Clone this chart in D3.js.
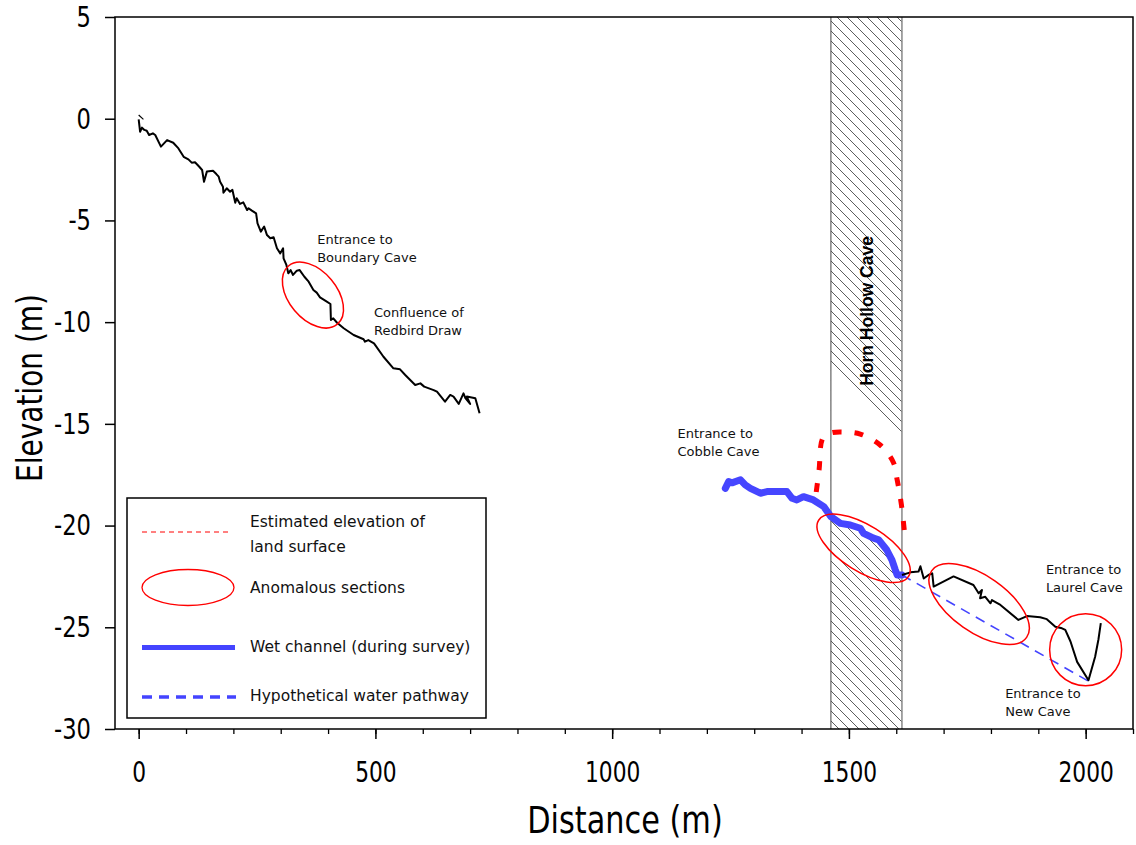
<!DOCTYPE html>
<html>
<head>
<meta charset="utf-8">
<script src="https://cdn.jsdelivr.net/npm/d3@7"></script>
<style>
  body { margin: 0; background: #fff; }
  svg { display: block; }
</style>
</head>
<body>
<div id="chart"></div>
<script>
// ---- data (distance m, elevation m) ----
const xMajorTicks = [0, 500, 1000, 1500, 2000];
const xMinorTicks = d3.range(0, 2101, 100);
const yTicks = [-30, -25, -20, -15, -10, -5, 0, 5];

const startStub = [[0, 0.18], [10, -0.03]];

const upstreamProfile = [
  [0, -0.03], [3, -0.64], [7, -0.44], [12, -0.55], [17, -0.59], [22, -0.80], [30, -0.72],
  [35, -0.80], [47, -1.37], [60, -1.05], [73, -1.18], [84, -1.46], [95, -1.87], [105, -2.0],
  [112, -2.16], [119, -2.14], [128, -2.36], [134, -2.52], [138, -3.1], [144, -2.6], [157, -2.56],
  [164, -2.72], [169, -2.85], [172, -3.1], [178, -3.34], [179, -3.64], [186, -3.42], [193, -3.59],
  [198, -3.5], [204, -4.13], [207, -3.91], [214, -4.19], [221, -4.11], [229, -4.49], [232, -4.4],
  [239, -4.52], [248, -4.65], [251, -5.14], [258, -5.55], [265, -5.3], [271, -5.72], [278, -5.88],
  [285, -5.83], [292, -6.37], [299, -6.62], [305, -6.37], [306, -6.86], [312, -7.19], [316, -7.6],
  [321, -7.44], [326, -7.68], [334, -7.47], [340, -7.44], [350, -7.77], [359, -8.01], [369, -8.42],
  [376, -8.55], [383, -8.78], [394, -8.94], [405, -9.11], [406, -9.89], [411, -9.81], [419, -10.03],
  [433, -10.3], [454, -10.63], [475, -10.84], [478, -10.96], [485, -10.88], [497, -11.04],
  [517, -11.7], [538, -12.27], [552, -12.32], [563, -12.6], [584, -13.09], [595, -13.01],
  [603, -13.17], [623, -13.34], [630, -13.42], [647, -13.91], [658, -13.58], [665, -13.66],
  [676, -14.02], [686, -13.5], [690, -13.74], [700, -14.02], [693, -13.66], [711, -13.74], [720, -14.48]
];

const wetChannel = [
  [1239, -18.17], [1246, -17.84], [1253, -17.9], [1271, -17.75], [1281, -18.0], [1292, -18.17],
  [1313, -18.41], [1327, -18.33], [1369, -18.33], [1380, -18.66], [1390, -18.74], [1404, -18.58],
  [1425, -18.74], [1447, -19.07], [1462, -19.56], [1482, -19.89], [1503, -19.97], [1524, -20.13],
  [1531, -20.38], [1552, -20.62], [1563, -20.7], [1580, -21.2], [1591, -21.7], [1598, -22.18],
  [1602, -22.43], [1612, -22.43]
];

const downstreamProfile = [
  [1612, -22.43], [1630, -22.3], [1647, -22.26], [1651, -22.0], [1658, -22.6], [1668, -22.43],
  [1676, -22.35], [1679, -23.0], [1721, -22.5], [1763, -22.92], [1774, -23.33], [1781, -23.17],
  [1777, -23.57], [1788, -23.5], [1799, -23.82], [1802, -23.66], [1820, -23.9], [1858, -24.64],
  [1876, -24.45], [1904, -24.51], [1918, -24.6], [1936, -24.97], [1950, -25.05], [1957, -25.13],
  [1968, -25.7], [1982, -26.7], [2006, -27.6], [2020, -26.45], [2027, -25.6], [2032, -24.8]
];

const landSurface = [
  [1431, -18.35], [1437, -17.27], [1445, -15.7], [1461, -15.45], [1488, -15.4], [1524, -15.5],
  [1566, -16.04], [1594, -16.9], [1602, -17.76], [1611, -19.0], [1619, -20.7]
];

const waterPathway = [[1612, -22.43], [2006, -27.65]];

const caveSpan = [1462, 1612];
const caveCeiling = [[1462, -12.1], [1612, -15.7]];

const anomalyCenters = [[368, -8.67], [1531, -21.12], [1775, -23.86], [2000, -26.1]];

const annotations = [
  { lines: ["Entrance to", "Boundary Cave"], at: [377, -6.16] },
  { lines: ["Confluence of", "Redbird Draw"], at: [497, -9.76] },
  { lines: ["Entrance to", "Cobble Cave"], at: [1138, -15.71] },
  { lines: ["Entrance to", "Laurel Cave"], at: [1916, -22.38] },
  { lines: ["Entrance to", "New Cave"], at: [1830, -28.49] }
];

// ---- layout ----
const W = 1136, H = 845;
const plotL = 115, plotR = 1133, plotT = 17, plotB = 729;

const svg = d3.select("#chart").append("svg")
  .attr("width", W).attr("height", H)
  .style("font-family", "'DejaVu Sans', sans-serif");

const x = d3.scaleLinear().domain([-50, 2100]).range([plotL, plotR]);
const y = d3.scaleLinear().domain([-30, 5]).range([plotB, plotT]);

const defs = svg.append("defs");
const hatch = defs.append("pattern")
  .attr("id", "hatch")
  .attr("patternUnits", "userSpaceOnUse")
  .attr("width", 10).attr("height", 10);
hatch.append("path")
  .attr("d", "M0,0 L10,10 M-1,9 L1,11 M9,-1 L11,1")
  .attr("stroke", "#333").attr("stroke-width", 0.8);

// cave band (Horn Hollow Cave)
svg.append("rect")
  .attr("x", x(caveSpan[0])).attr("y", plotT)
  .attr("width", x(caveSpan[1]) - x(caveSpan[0]))
  .attr("height", plotB - plotT)
  .attr("fill", "url(#hatch)");

// open passage between ceiling and stream, left blank
const passage = caveCeiling.concat(
  wetChannel.filter(d => d[0] >= caveSpan[0] && d[0] <= caveSpan[1]).reverse()
);
svg.append("path")
  .attr("d", d3.line().x(d => x(d[0])).y(d => y(d[1]))(passage) + "Z")
  .attr("fill", "#fff");

svg.selectAll(".band-edge")
  .data(caveSpan)
  .enter().append("line")
  .attr("class", "band-edge")
  .attr("x1", d => x(d)).attr("x2", d => x(d))
  .attr("y1", plotT).attr("y2", plotB)
  .attr("stroke", (d, i) => i ? "#888" : "#444")
  .attr("stroke-width", (d, i) => i ? 1.5 : 1);

svg.append("text")
  .attr("transform", `translate(${x(d3.mean(caveSpan)) + 7},${y(-9.45)}) rotate(-90)`)
  .attr("text-anchor", "middle")
  .style("font-family", "'Liberation Sans', Arial, sans-serif")
  .style("font-weight", "bold")
  .style("font-size", "17.5px")
  .text("Horn Hollow Cave");

const line = d3.line().x(d => x(d[0])).y(d => y(d[1]));

// estimated land surface
svg.append("path")
  .attr("d", d3.line().curve(d3.curveCatmullRom).x(d => x(d[0])).y(d => y(d[1]))(landSurface))
  .attr("fill", "none")
  .attr("stroke", "#ff0000")
  .attr("stroke-width", 5)
  .attr("stroke-dasharray", "9,13");

// hypothetical water pathway
svg.append("path")
  .attr("d", line(waterPathway))
  .attr("fill", "none")
  .attr("stroke", "#4444ff")
  .attr("stroke-width", 1.6)
  .attr("stroke-dasharray", "10,7");

// wet channel
svg.append("path")
  .attr("d", line(wetChannel))
  .attr("fill", "none")
  .attr("stroke", "#4646ff")
  .attr("stroke-width", 7)
  .attr("stroke-linejoin", "round")
  .attr("stroke-linecap", "round");

// dry profile
[startStub, upstreamProfile, downstreamProfile].forEach(seg => {
  svg.append("path")
    .attr("d", line(seg))
    .attr("fill", "none")
    .attr("stroke", "#000")
    .attr("stroke-width", seg === startStub ? 1.2 : 2)
    .attr("stroke-linejoin", "round");
});

// anomalous sections
const ellipseShape = [
  { rx: 38, ry: 24, rot: 50 },
  { rx: 53, ry: 23, rot: 32 },
  { rx: 58, ry: 28, rot: 35 },
  { rx: 36, ry: 36, rot: 0 }
];
svg.selectAll(".anomaly")
  .data(anomalyCenters)
  .enter().append("ellipse")
  .attr("class", "anomaly")
  .attr("transform", (d, i) => `translate(${x(d[0])},${y(d[1])}) rotate(${ellipseShape[i].rot})`)
  .attr("rx", (d, i) => ellipseShape[i].rx)
  .attr("ry", (d, i) => ellipseShape[i].ry)
  .attr("fill", "none")
  .attr("stroke", "#ff0000")
  .attr("stroke-width", 1.5);

// annotations
annotations.forEach(a => {
  const t = svg.append("text")
    .attr("x", x(a.at[0])).attr("y", y(a.at[1]))
    .style("font-size", "13px")
    .attr("fill", "#111");
  a.lines.forEach((s, i) => {
    t.append("tspan").attr("x", x(a.at[0])).attr("dy", i ? 18 : 0).text(s);
  });
});

// frame
svg.append("rect")
  .attr("x", plotL).attr("y", plotT)
  .attr("width", plotR - plotL).attr("height", plotB - plotT)
  .attr("fill", "none")
  .attr("stroke", "#000")
  .attr("stroke-width", 1.5);

// axes
const xMinor = svg.append("g")
  .attr("transform", `translate(0,${plotB})`)
  .call(d3.axisBottom(x).tickValues(xMinorTicks).tickSize(5).tickFormat(""));
xMinor.select(".domain").remove();
xMinor.selectAll("line").attr("stroke-width", 1.3);

const xAxis = svg.append("g")
  .attr("transform", `translate(0,${plotB})`)
  .call(d3.axisBottom(x).tickValues(xMajorTicks).tickSize(10).tickPadding(22).tickFormat(d => String(d)));
xAxis.select(".domain").remove();
xAxis.selectAll("line").attr("stroke-width", 1.5);
xAxis.selectAll("text")
  .style("font-family", "'DejaVu Sans', sans-serif")
  .style("font-size", "29px")
  .attr("fill", "#000")
  .attr("transform", "scale(0.75,1)");

const yAxis = svg.append("g")
  .attr("transform", `translate(${plotL},0)`)
  .call(d3.axisLeft(y).tickValues(yTicks).tickSize(10).tickPadding(14).tickFormat(d => String(d)));
yAxis.select(".domain").remove();
yAxis.selectAll("line").attr("stroke-width", 1.5);
yAxis.selectAll("text")
  .style("font-family", "'DejaVu Sans', sans-serif")
  .style("font-size", "29px")
  .attr("fill", "#000")
  .attr("x", -24 / 0.78)
  .attr("transform", "scale(0.78,1)");

// axis titles
svg.append("text")
  .attr("transform", `translate(625,833) scale(0.82,1)`)
  .attr("text-anchor", "middle")
  .style("font-size", "37px")
  .text("Distance (m)");

svg.append("text")
  .attr("transform", `translate(42,388) rotate(-90) scale(0.8,1)`)
  .attr("text-anchor", "middle")
  .style("font-size", "35px")
  .text("Elevation (m)");

// legend
const lg = svg.append("g");
lg.append("rect")
  .attr("x", 127).attr("y", 498).attr("width", 359).attr("height", 220)
  .attr("fill", "#fff").attr("stroke", "#000").attr("stroke-width", 1.5);

lg.append("line")
  .attr("x1", 142).attr("x2", 230).attr("y1", 532).attr("y2", 532)
  .attr("stroke", "#ff0000").attr("stroke-width", 1).attr("stroke-dasharray", "5,4");
lg.append("ellipse")
  .attr("cx", 188).attr("cy", 587.5).attr("rx", 46).attr("ry", 18)
  .attr("fill", "none").attr("stroke", "#ff0000").attr("stroke-width", 1.3);
lg.append("line")
  .attr("x1", 142).attr("x2", 235).attr("y1", 647.5).attr("y2", 647.5)
  .attr("stroke", "#4444ff").attr("stroke-width", 5);
lg.append("line")
  .attr("x1", 142).attr("x2", 236).attr("y1", 697).attr("y2", 697)
  .attr("stroke", "#4444ff").attr("stroke-width", 3.5).attr("stroke-dasharray", "10,7");

const legendText = [
  ["Estimated elevation of", 526.7],
  ["land surface", 551.7],
  ["Anomalous sections", 593.3],
  ["Wet channel (during survey)", 652.3],
  ["Hypothetical water pathway", 700.7]
];
lg.selectAll(".lt")
  .data(legendText)
  .enter().append("text")
  .attr("class", "lt")
  .attr("x", 250).attr("y", d => d[1])
  .style("font-size", "15.5px")
  .attr("fill", "#111")
  .text(d => d[0]);
</script>
</body>
</html>
